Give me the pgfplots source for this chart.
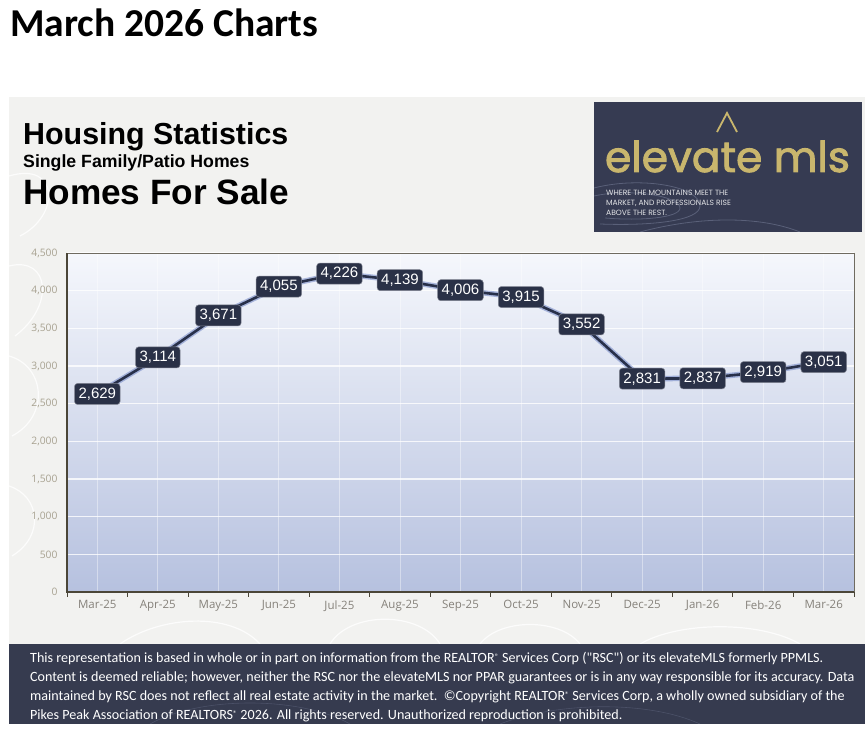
\documentclass[border=0pt]{standalone}
\usepackage{fontspec}
\usepackage{graphicx}
\usepackage{pgfplots}
\pgfplotsset{compat=1.18}
\setmainfont{Liberation Sans}
\newfontfamily\calibri{Carlito}
\newfontfamily\opensans{Open Sans}
\newfontfamily\poppins{Poppins}
\newfontfamily\poppinsb[FakeBold=2]{Poppins}
\definecolor{panel}{HTML}{F2F2F0}
\definecolor{footer}{HTML}{363B4F}
\definecolor{logo}{HTML}{363B52}
\definecolor{gold}{HTML}{C9B66D}
\definecolor{lblbox}{HTML}{2A3147}
\definecolor{navy}{HTML}{28304A}
\definecolor{glow}{HTML}{6F84C4}
\definecolor{ytick}{HTML}{A8A291}
\definecolor{xtick}{HTML}{85817A}
\definecolor{axdark}{HTML}{4B4638}
\definecolor{plottop}{HTML}{F5F7FC}
\definecolor{plotbot}{HTML}{B6C1DF}
\definecolor{contour}{HTML}{5A6079}
\newcommand{\reg}{\raisebox{3.5pt}{\fontsize{8}{8}\selectfont ®}}
\begin{document}
\begin{tikzpicture}[x=1pt,y=1pt]
% canvas
\fill[white] (0,0) rectangle (868,736);
\useasboundingbox (0,0) rectangle (868,736);
% panel
\fill[panel] (9,92) rectangle (865,639);
% faint contours on panel
\begin{scope}[white, line width=1.2pt, opacity=0.8]
\clip (9,92) rectangle (865,639);
\draw (9,560) .. controls (60,575) and (60,520) .. (20,500);
\draw (9,470) .. controls (50,480) and (55,430) .. (15,400);
\draw (9,380) .. controls (45,370) and (50,320) .. (12,300);
\draw (9,250) .. controls (40,240) and (45,200) .. (12,180);
\draw (120,92) .. controls (160,120) and (230,125) .. (260,92);
\draw (330,92) .. controls (350,125) and (420,125) .. (440,92);
\draw (480,92) .. controls (500,118) and (560,118) .. (580,92);
\draw (640,92) .. controls (680,115) and (760,115) .. (800,92);
\end{scope}
% footer
\fill[footer] (9,12) rectangle (865,92);
\begin{scope}[contour, line width=0.6pt, opacity=0.6]
\clip (9,12) rectangle (865,92);
\draw (150,12) .. controls (200,40) and (300,40) .. (350,12);
\draw (500,12) .. controls (560,35) and (650,35) .. (700,12);
\end{scope}
% title
\node[anchor=base west, inner sep=0pt, font=\calibri\bfseries\fontsize{39.5}{44}\selectfont] at (10,699) {March 2026 Charts};
% header texts
\node[anchor=base west, inner sep=0pt, font=\bfseries\fontsize{30.4}{34}\selectfont] at (23,591) {Housing Statistics};
\node[anchor=base west, inner sep=0pt, font=\bfseries\fontsize{17.7}{20}\selectfont] at (23,568) {Single Family/Patio Homes};
\node[anchor=base west, inner sep=0pt, font=\bfseries\fontsize{35.2}{40}\selectfont] at (23,531) {Homes For Sale};
% logo
\fill[logo] (594,504) rectangle (862,634);
\begin{scope}[contour, line width=0.8pt]
\clip (594,504) rectangle (862,634);
\draw (594,548) .. controls (640,560) and (700,550) .. (700,530) .. controls (700,515) and (650,510) .. (600,512);
\draw (594,540) .. controls (630,548) and (680,540) .. (680,528) .. controls (680,518) and (640,515) .. (605,518);
\draw (640,504) .. controls (700,520) and (760,520) .. (800,504);
\end{scope}
\draw[gold, line width=1.8pt] (717,604) -- (727,623) -- (737,604);
\node[anchor=base, inner sep=0pt, text=gold] at (727.5,564) {\resizebox{245pt}{!}{\poppinsb elevate mls}};
\begin{scope}[every node/.style={anchor=base west, inner sep=0pt, text=white!85!logo, font=\poppins\fontsize{7.6}{8}\selectfont}]
\node at (606,540) {WHERE THE MOUNTAINS MEET THE};
\node at (606,530) {MARKET, AND PROFESSIONALS RISE};
\node at (606,520) {ABOVE THE REST.};
\end{scope}
% footer text
\begin{scope}[every node/.style={anchor=base west, inner sep=0pt, text=white, font=\calibri\fontsize{14.1}{16}\selectfont}]
\node at (30,73) {This representation is based in whole or in part on information from the REALTOR\reg{} Services Corp ("RSC") or its elevateMLS formerly PPMLS.};
\node at (30,54) {Content is deemed reliable; however, neither the RSC nor the elevateMLS nor PPAR guarantees or is in any way responsible for its accuracy. Data};
\node at (30,35) {maintained by RSC does not reflect all real estate activity in the market.\ \ \textcopyright Copyright REALTOR\reg{} Services Corp, a wholly owned subsidiary of the};
\node at (30,16) {Pikes Peak Association of REALTORS\reg{} 2026. All rights reserved. Unauthorized reproduction is prohibited.};
\end{scope}
% chart
\begin{axis}[
  at={(67pt,144pt)}, anchor=south west,
  scale only axis, width=787pt, height=339pt,
  xmin=-0.5, xmax=12.5, ymin=0, ymax=4500,
  xtick={0,...,12},
  xticklabels={Mar-25,Apr-25,May-25,Jun-25,Jul-25,Aug-25,Sep-25,Oct-25,Nov-25,Dec-25,Jan-26,Feb-26,Mar-26},
  ytick={0,500,...,4500},
  xtick pos=bottom, ytick pos=left,
  major tick length=0pt,
  extra x ticks={-0.5,0.5,...,12.5},
  extra x tick labels={},
  extra x tick style={grid=none, tick align=outside, major tick length=5pt, tick style={axdark, line width=1pt}},
  xmajorgrids, ymajorgrids,
  y grid style={white, line width=1.1pt, opacity=0.8},
  x grid style={white, line width=0.9pt, opacity=0.4},
  axis line style={draw=axdark!80, line width=0.8pt},
  axis background/.style={top color=plottop, bottom color=plotbot},
  /pgf/number format/.cd, 1000 sep={,}, assume math mode=true,
  /pgfplots/.cd,
  xticklabel style={font=\opensans\fontsize{11.5}{13}\selectfont, text=xtick, yshift=-5pt},
  yticklabel style={font=\opensans\fontsize{10.3}{12}\selectfont, text=ytick, xshift=-6pt},
  clip=false,
]
\addplot[draw=glow, line width=5.5pt, opacity=0.55, line join=round] coordinates {
(0,2629) (1,3114) (2,3671) (3,4055) (4,4226) (5,4139) (6,4006) (7,3915) (8,3552) (9,2831) (10,2837) (11,2919) (12,3051)};
\addplot[draw=navy, line width=2.6pt, line join=round,
  nodes near coords,
  every node near coord/.append style={anchor=center, fill=lblbox, draw=white!40!lblbox, line width=0.5pt, rounded corners=3pt, text=white, font=\fontsize{15}{17}\selectfont, inner xsep=4pt, inner ysep=0pt, minimum height=21pt},
] coordinates {
(0,2629) (1,3114) (2,3671) (3,4055) (4,4226) (5,4139) (6,4006) (7,3915) (8,3552) (9,2831) (10,2837) (11,2919) (12,3051)};
\draw[axdark, line width=1.4pt] (rel axis cs:0,1) -- (rel axis cs:0,0) -- (rel axis cs:1,0);
\end{axis}
\end{tikzpicture}
\end{document}
